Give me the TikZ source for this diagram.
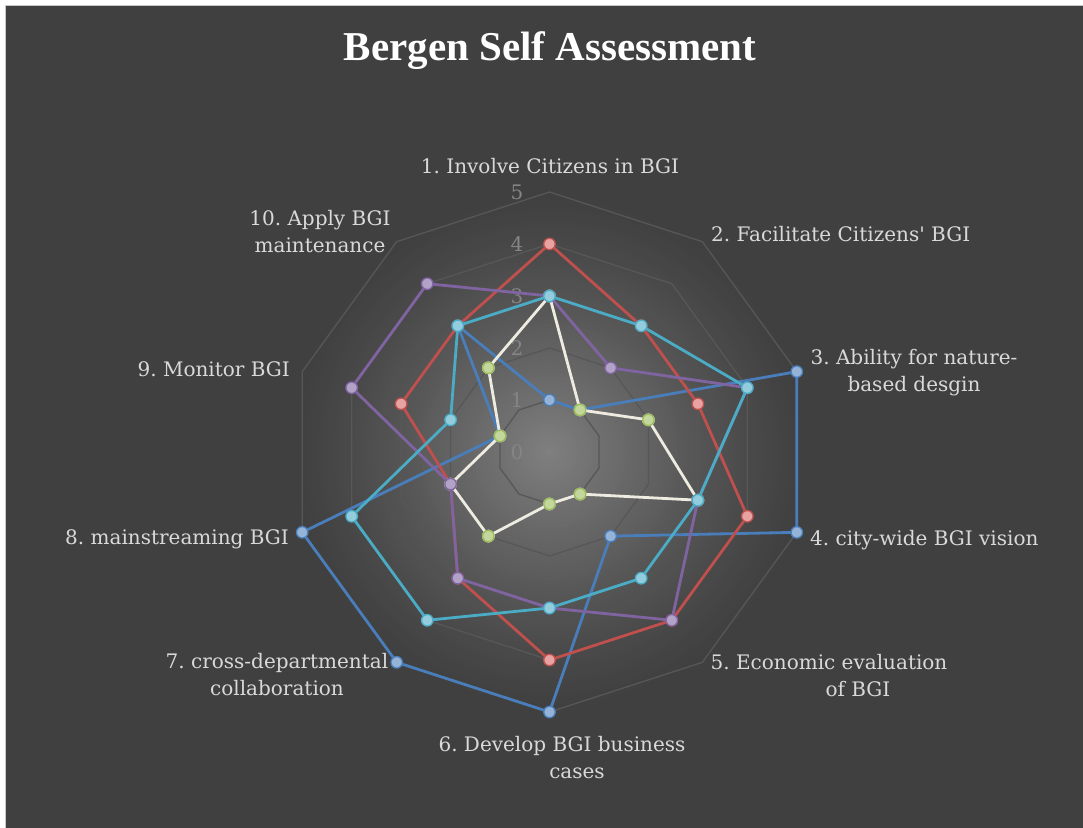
\documentclass[tikz,border=0pt]{standalone}
\usepackage{fontspec}
\setmainfont{DejaVu Serif}
\newfontfamily\titlefont{Liberation Serif}
\frenchspacing
\definecolor{bgc}{HTML}{404040}
\definecolor{framec}{HTML}{C8C8C8}
\definecolor{glowc}{HTML}{808080}
\definecolor{gridc}{HTML}{575757}
\definecolor{labc}{HTML}{D9D9D9}
\definecolor{tickc}{HTML}{858585}
\definecolor{bluel}{HTML}{4A7EBB}
\definecolor{bluef}{HTML}{95B3D7}
\definecolor{redl}{HTML}{C0504D}
\definecolor{redf}{HTML}{E6A3A2}
\definecolor{purl}{HTML}{8064A2}
\definecolor{purf}{HTML}{B3A2C7}
\definecolor{cyal}{HTML}{4BACC6}
\definecolor{cyaf}{HTML}{93CDDD}
\definecolor{grnl}{HTML}{EEECE1}
\definecolor{grnm}{HTML}{9BBB59}
\definecolor{grnf}{HTML}{C3D69B}
\newcommand\radarseries[4]{%
  \foreach \v [count=\k] in {#4} {\coordinate (#1\k) at ({90-36*(\k-1)}:{\v*52});}
  \draw[serline, draw=#2] (#11) \foreach \k in {2,...,10}{ -- (#1\k)} -- cycle;
  \foreach \k in {1,...,10} {\node[mark dot, draw=#2, fill=#3] (#1m\k) at (#1\k) {};}
}
\begin{document}
\begin{tikzpicture}[x=1pt,y=1pt,
  gridline/.style={draw=gridc, line width=1.3pt},
  serline/.style={line width=2.8pt, line join=round},
  mark dot/.style={circle, inner sep=0pt, minimum size=11.5pt, line width=1.3pt},
  axlab/.style={text=labc, font=\fontsize{20}{27}\selectfont, inner sep=0pt, align=center},
  ticklab/.style={text=tickc, font=\fontsize{20}{26}\selectfont, inner sep=0pt}]
\useasboundingbox (0,0) rectangle (1083,827);
\fill[white] (0,0) rectangle (1083,827);
\fill[bgc] (5.5,-5) rectangle (1090,821.5);
\draw[framec, line width=1.5pt] (5.5,-5) -- (5.5,821.5) -- (1090,821.5);
\coordinate (C) at (549.5,375);
\foreach \i in {64,...,1} {
  \pgfmathsetmacro\pct{100*(1-\i/65)^1.25}
  \fill[glowc!\pct!bgc] (C) circle ({\i*4});
}
\node[text=white, font=\titlefont\fontsize{41}{45}\selectfont\bfseries, anchor=base] (title) at (550,766) {Bergen Self Assessment};
\begin{scope}[shift={(C)}]
  \foreach \r in {1,...,5} {\draw[gridline] (90:\r*52) \foreach \k in {1,...,9}{ -- ({90-36*\k}:\r*52)} -- cycle;}
  \foreach \v in {0,...,5} {\node[ticklab] (t\v) at (-32.5,\v*52) {\v};}
  \radarseries{b}{bluel}{bluef}{1,1,5,5,2,5,5,5,1,3}
  \radarseries{r}{redl}{redf}{4,3,3,4,4,4,3,2,3,3}
  \radarseries{g}{grnl}{grnf}{3,1,2,3,1,1,2,2,1,2}
  \foreach \k in {1,...,10} {\node[mark dot, draw=grnm, fill=grnf] (gm\k) at (g\k) {};}
  \radarseries{p}{purl}{purf}{3,2,4,3,4,3,3,2,4,4}
  \radarseries{c}{cyal}{cyaf}{3,3,4,3,3,3,4,4,2,3}
\end{scope}
\node[axlab, anchor=base] (l1) at (550,653) {1. Involve Citizens in BGI};
\node[axlab, anchor=base west] (l2) at (711,585) {2. Facilitate Citizens\textquotesingle\ BGI};
\node[axlab, anchor=base] (l3) at (914,435) {3. Ability for nature-\\based desgin};
\node[axlab, anchor=base west] (l4) at (810,281) {4. city-wide BGI vision};
\node[axlab, anchor=base] (l5) at (829,131) {5. Economic evaluation\\\hspace*{58pt}of BGI};
\node[axlab, anchor=base] (l6) at (562,49) {6. Develop BGI business\\\hspace*{30pt}cases};
\node[axlab, anchor=base] (l7) at (277,132) {7. cross-departmental\\collaboration};
\node[axlab, anchor=base east] (l8) at (289,282) {8. mainstreaming BGI};
\node[axlab, anchor=base east] (l9) at (290,450) {9. Monitor BGI};
\node[axlab, anchor=base] (l10) at (320,574) {10. Apply BGI\\maintenance};
\end{tikzpicture}
\end{document}
